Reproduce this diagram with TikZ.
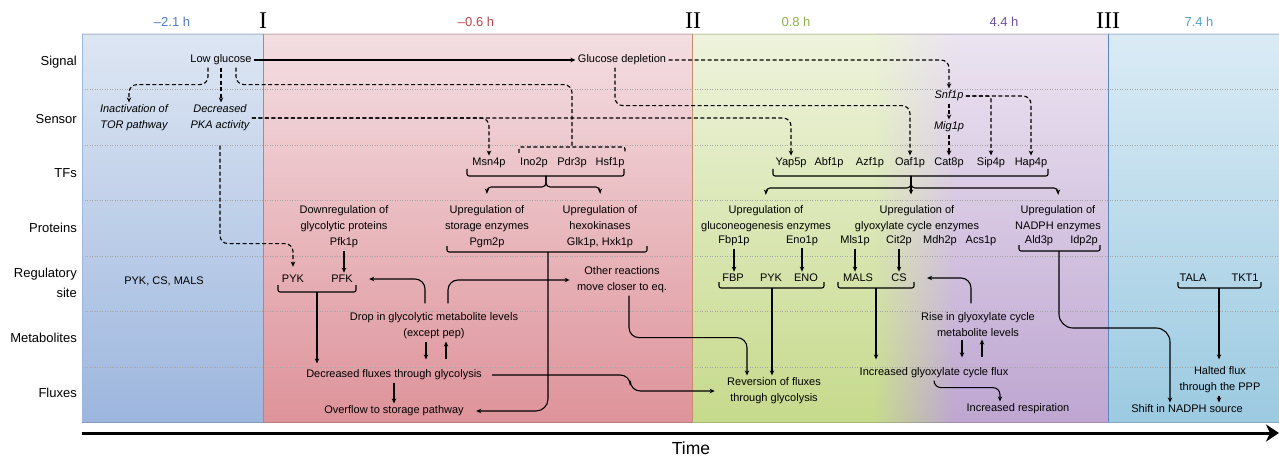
\documentclass[tikz,border=0pt]{standalone}
\usepackage{fontspec}
\setmainfont{Liberation Sans}
\newfontfamily\numfont{Liberation Serif}
\usepackage{xcolor}
\usetikzlibrary{arrows.meta,calc,fadings}
\definecolor{zblueT}{HTML}{DDE6F3}
\definecolor{zblueB}{HTML}{9DB6DE}
\definecolor{zredT}{HTML}{F3DEE2}
\definecolor{zredB}{HTML}{DE939A}
\definecolor{zgrnT}{HTML}{EEF3DC}
\definecolor{zgrnB}{HTML}{C6DA8C}
\definecolor{zpurT}{HTML}{ECE4F1}
\definecolor{zpurB}{HTML}{BEA6D1}
\definecolor{zcyaT}{HTML}{DAEBF5}
\definecolor{zcyaB}{HTML}{9CCAE1}
\definecolor{tblue}{HTML}{4F7CC0}
\definecolor{tred}{HTML}{B8464C}
\definecolor{tgrn}{HTML}{8DB04B}
\definecolor{tpur}{HTML}{6E5298}
\definecolor{tcya}{HTML}{4CA2C0}
\definecolor{zlineI}{HTML}{8E8FA8}
\definecolor{zlineII}{HTML}{C58B6B}
\definecolor{zlineIII}{HTML}{5A88BC}
\tikzfading[name=faderight, left color=transparent!0, right color=transparent!100]
\tikzset{
  txt/.style={font=\fontsize{11}{16}\selectfont, align=center, inner sep=1.5pt, outer sep=1pt},
  itxt/.style={txt, font=\fontsize{11}{16}\selectfont\itshape},
  rowlbl/.style={font=\fontsize{13}{20}\selectfont, anchor=east, align=right, inner sep=0pt},
  hrs/.style={font=\fontsize{13}{15}\selectfont, inner sep=1pt},
  numeral/.style={font=\fontsize{24}{24}\numfont, inner sep=0pt},
  ar/.style={-{Stealth[length=5pt,width=4.5pt]}, line width=1.1pt},
  dar/.style={ar, dash pattern=on 4pt off 2.5pt},
  dln/.style={line width=1.1pt, dash pattern=on 4pt off 2.5pt},
  brk/.style={line width=1.1pt, rounded corners=2pt},
  dbrk/.style={dln, rounded corners=2pt},
  rowrule/.style={draw=black!35, dotted, line width=0.5pt},
}
\begin{document}
\begin{tikzpicture}[x=1pt,y=-1pt]
\useasboundingbox (0,0) rectangle (1279,457);

% ---------- time bands ----------
\shade[top color=zblueT,bottom color=zblueB] (82,34) rectangle (263,422);
\shade[top color=zredT,bottom color=zredB] (263,34) rectangle (692,422);
\shade[top color=zpurT,bottom color=zpurB] (875,34) rectangle (1108,422);
\shade[top color=zgrnT,bottom color=zgrnB] (692,34) rectangle (876,422);
\shade[top color=zgrnT,bottom color=zgrnB,path fading=faderight] (875,34) rectangle (955,422);
\shade[top color=zcyaT,bottom color=zcyaB] (1108,34) rectangle (1279,422);

% ---------- row rules ----------
\foreach \yy in {89,145,200,256,311,367}
  \draw[rowrule] (82,\yy) -- (1279,\yy);

% ---------- band borders ----------
\draw[line width=0.8pt,black,opacity=0.15] (82,34) rectangle (1279,422);
\draw[line width=0.9pt,zblueB] (82,34) -- (82,422);
\draw[line width=0.9pt,zlineI] (263,34) -- (263,422);
\draw[line width=0.9pt,zlineII] (692,34) -- (692,422);
\draw[line width=0.9pt,zlineIII] (1108,34) -- (1108,422);

% ---------- header ----------
\node[hrs,text=tblue] (h1) at (172,22) {--2.1 h};
\node[hrs,text=tred] (h2) at (476,22) {--0.6 h};
\node[hrs,text=tgrn] (h3) at (796,22) {0.8 h};
\node[hrs,text=tpur] (h4) at (1004,22) {4.4 h};
\node[hrs,text=tcya] (h5) at (1199,22) {7.4 h};
\node[numeral] (nI) at (263,21) {I};
\node[numeral] (nII) at (693,21) {II};
\node[numeral] (nIII) at (1108,21) {III};

% ---------- row labels ----------
\node[rowlbl] (rSig) at (77,62) {Signal};
\node[rowlbl] (rSen) at (77,119) {Sensor};
\node[rowlbl] (rTF) at (77,173) {TFs};
\node[rowlbl] (rPro) at (77,228) {Proteins};
\node[rowlbl] (rReg) at (77,283) {Regulatory\\site};
\node[rowlbl] (rMet) at (77,338) {Metabolites};
\node[rowlbl] (rFlx) at (77,393) {Fluxes};

% ---------- signal + sensor ----------
\node[txt] (lowg) at (221,60) {Low glucose};
\node[txt] (glud) at (622,60) {Glucose depletion};
\node[itxt] (tor) at (134,118) {Inactivation of\\TOR pathway};
\node[itxt] (pka) at (220,118) {Decreased\\PKA activity};
\node[itxt] (snf) at (949,96) {Snf1p};
\node[itxt] (mig) at (949,127) {Mig1p};

% ---------- transcription factors ----------
\node[txt] (msn) at (489,163) {Msn4p};
\node[txt] (ino) at (534,163) {Ino2p};
\node[txt] (pdr) at (572,163) {Pdr3p};
\node[txt] (hsf) at (610,163) {Hsf1p};
\node[txt] (yap) at (791,163) {Yap5p};
\node[txt] (abf) at (829,163) {Abf1p};
\node[txt] (azf) at (870,163) {Azf1p};
\node[txt] (oaf) at (910,163) {Oaf1p};
\node[txt] (cat) at (949,163) {Cat8p};
\node[txt] (sip) at (991,163) {Sip4p};
\node[txt] (hap) at (1031,163) {Hap4p};

% ---------- proteins ----------
\node[txt] (dnreg) at (344,227) {Downregulation of\\glycolytic proteins\\Pfk1p};
\node[txt] (stor) at (487,227) {Upregulation of\\storage enzymes\\Pgm2p};
\node[txt] (hexo) at (600,227) {Upregulation of\\hexokinases\\Glk1p, Hxk1p};
\node[txt] (gluc) at (766,219) {Upregulation of\\gluconeogenesis enzymes};
\node[txt] (fbp1) at (734,241) {Fbp1p};
\node[txt] (eno1) at (802,241) {Eno1p};
\node[txt] (glyx) at (917,219) {Upregulation of\\glyoxylate cycle enzymes};
\node[txt] (mls1) at (855,241) {Mls1p};
\node[txt] (cit2) at (899,241) {Cit2p};
\node[txt] (mdh2) at (940,241) {Mdh2p};
\node[txt] (acs1) at (981,241) {Acs1p};
\node[txt] (nadph) at (1058,219) {Upregulation of\\NADPH enzymes};
\node[txt] (ald3) at (1039,241) {Ald3p};
\node[txt] (idp2) at (1084,241) {Idp2p};

% ---------- regulatory sites ----------
\node[txt] (rsall) at (164,281) {PYK, CS, MALS};
\node[txt] (pykA) at (293,279) {PYK};
\node[txt] (pfk) at (342,279) {PFK};
\node[txt] (other) at (622,280) {Other reactions\\move closer to eq.};
\node[txt] (fbp) at (733,278) {FBP};
\node[txt] (pykB) at (771,278) {PYK};
\node[txt] (eno) at (806,278) {ENO};
\node[txt] (mals) at (858,278) {MALS};
\node[txt] (cs) at (899,278) {CS};
\node[txt] (tala) at (1193,278) {TALA};
\node[txt] (tkt) at (1245,278) {TKT1};

% ---------- metabolites + fluxes ----------
\node[txt] (drop) at (434,326) {Drop in glycolytic metabolite levels\\(except pep)};
\node[txt] (rise) at (978,325) {Rise in glyoxylate cycle\\metabolite levels};
\node[txt] (decf) at (394,375) {Decreased fluxes through glycolysis};
\node[txt] (over) at (394,411) {Overflow to storage pathway};
\node[txt] (rev) at (774,391) {Reversion of fluxes\\through glycolysis};
\node[txt] (glyf) at (934,373) {Increased glyoxylate cycle flux};
\node[txt] (resp) at (1018,409) {Increased respiration};
\node[txt] (halt) at (1220,380) {Halted flux\\through the PPP};
\node[txt] (nsrc) at (1187,409) {Shift in NADPH source};

% ---------- brackets ----------
\draw[dbrk] (519,153) -- (519,147) -- (625,147) -- (625,153);
\coordinate (jT) at (572,147);
\draw[brk] (467,169) -- (467,176) -- (624,176) -- (624,169);
\coordinate (jA) at (546,176);
\draw[brk] (773,169) -- (773,176) -- (1048,176) -- (1048,169);
\coordinate (jB) at (911,176);
\draw[brk] (447,246) -- (447,252) -- (647,252) -- (647,246);
\coordinate (jC) at (548,252);
\draw[brk] (1019,245) -- (1019,251) -- (1100,251) -- (1100,245);
\coordinate (jH) at (1059,251);
\draw[brk] (278,285) -- (278,292) -- (356,292) -- (356,285);
\coordinate (jD) at (317,292);
\draw[brk] (719,282) -- (719,288) -- (824,288) -- (824,282);
\coordinate (jE) at (772,288);
\draw[brk] (838,282) -- (838,288) -- (914,288) -- (914,282);
\coordinate (jF) at (876,288);
\draw[brk] (1178,282) -- (1178,288) -- (1261,288) -- (1261,282);
\coordinate (jG) at (1219,288);

% ---------- signalling (dashed) ----------
\draw[ar] (lowg.east) -- (lowg.east -| glud.west);
\draw[dar,rounded corners=8pt] ([xshift=-13pt]lowg.south) -- ++(0,17) -| ([xshift=-5pt]tor.north);
\draw[dar] (lowg.south) -- (lowg.south |- pka.north);
\draw[dln,rounded corners=8pt] ([xshift=15pt]lowg.south) -- ++(0,17) -| (jT);
\draw[dar,rounded corners=8pt] (pka.east) -| (msn.north);
\draw[dar,rounded corners=8pt] (pka.east) -| (yap.north);
\draw[dar,rounded corners=8pt,shorten <=12pt] (pka.south) -- ++(0,110) -| ([yshift=6pt]pykA.north);
\draw[dar,rounded corners=8pt] (glud.east) -| (snf.north);
\draw[dar,rounded corners=8pt] ([xshift=-7pt]glud.south) -- ++(0,38) -| (oaf.north);
\draw[dar] (snf.south) -- (snf.south |- mig.north);
\draw[dar] (mig.south) -- (mig.south |- cat.north);
\draw[dar,rounded corners=3pt] (snf.east) -| (sip.north);
\draw[dar,rounded corners=8pt] (snf.east) -| (hap.north);

% ---------- TFs to proteins ----------
\draw[ar,rounded corners=4pt] (jA) -- ++(0,11) -| ([yshift=10pt]stor.north);
\draw[ar,rounded corners=4pt] (jA) -- ++(0,11) -| ([yshift=10pt]hexo.north);
\draw[ar,rounded corners=4pt] (jB) -- ++(0,12) -| ([yshift=9pt]gluc.north);
\draw[ar] (jB) -- ([yshift=9pt]jB |- glyx.north);
\draw[ar,rounded corners=4pt] (jB) -- ++(0,12) -| ([yshift=9pt]nadph.north);

% ---------- proteins to sites ----------
\draw[ar] (dnreg.south) -- (dnreg.south |- pfk.north);
\draw[ar] (fbp1.south) -- (fbp1.south |- fbp.north);
\draw[ar] (eno1.south) -- (eno1.south |- eno.north);
\draw[ar] (mls1.south) -- (mls1.south |- mals.north);
\draw[ar] (cit2.south) -- (cit2.south |- cs.north);
\draw[ar,rounded corners=12pt] (jC) |- ([xshift=10pt]over.east);
\draw[ar,rounded corners=14pt] (jH) -- ++(0,77) -| ([xshift=-17pt]nsrc.north);

% ---------- sites, metabolites, fluxes ----------
\draw[ar] (jD) -- ([yshift=4pt]jD |- decf.north);
\draw[ar] (jE) -- (jE |- rev.north);
\draw[ar] (jF) -- ([yshift=6pt]jF |- glyf.north);
\draw[ar] (jG) -- ([yshift=5pt]jG |- halt.north);
\draw[ar,rounded corners=10pt] ([xshift=-9pt,yshift=7pt]drop.north) |- ([xshift=14pt]pfk.east);
\draw[ar,rounded corners=10pt] ([xshift=14pt,yshift=7pt]drop.north) |- ([xshift=-5pt]other.west);
\draw[ar] ([xshift=-8pt]drop.south) -- ([xshift=-8pt,yshift=8pt]drop.south |- decf.north);
\draw[ar] ([xshift=12pt,yshift=8pt]drop.south |- decf.north) -- ([xshift=12pt]drop.south);
\draw[ar,rounded corners=10pt] ([xshift=-7pt,yshift=7pt]rise.north) |- ([xshift=18pt]cs.east);
\draw[ar] ([xshift=-16pt]rise.south) -- ([xshift=-16pt,yshift=8pt]rise.south |- glyf.north);
\draw[ar] ([xshift=4pt,yshift=8pt]rise.south |- glyf.north) -- ([xshift=4pt]rise.south);
\draw[ar] (decf.south) -- (decf.south |- over.north);
\draw[ar,rounded corners=10pt] ([xshift=8pt]decf.east) -- ++(138,0) |- ([xshift=-10pt]rev.west);
\draw[ar,rounded corners=10pt] ([xshift=7pt]other.south) -- ++(0,42) -| ([xshift=-27pt]rev.north);
\draw[ar,rounded corners=7pt] (glyf.south) -- ++(0,7) -| ([xshift=-18pt]resp.north);
\draw[ar] ([xshift=-1pt]halt.south) -- ([xshift=-1pt]halt.south |- nsrc.north);

% ---------- time axis ----------
\coordinate (t0) at (82,433);
\coordinate (t1) at (1279,433);
\draw[line width=3pt,-{Stealth[length=13pt,width=17pt,inset=4pt]}] (t0) -- (t1);
\node[font=\fontsize{17.5}{20}\selectfont] (time) at (691,448) {Time};
\end{tikzpicture}
\end{document}
